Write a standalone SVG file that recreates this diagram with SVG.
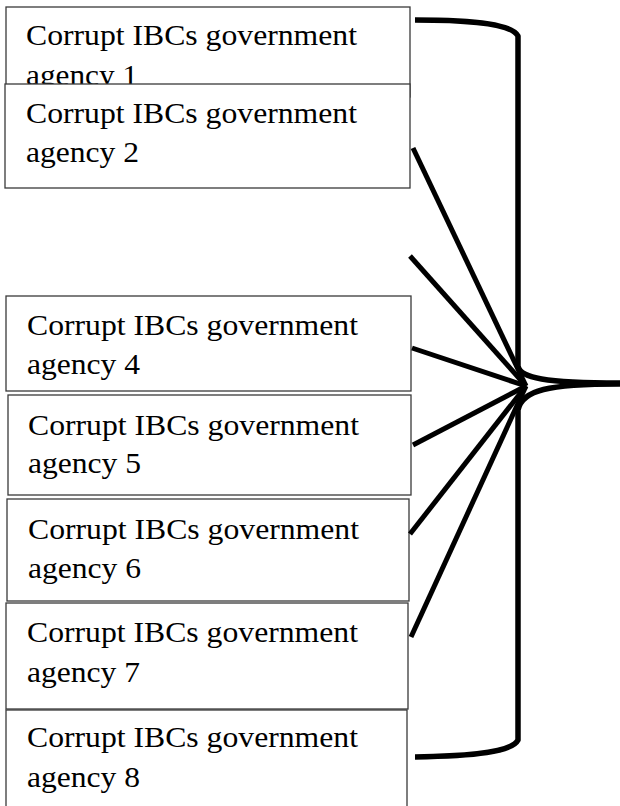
<svg xmlns="http://www.w3.org/2000/svg" width="620" height="806" viewBox="0 0 620 806">
<style>
.box{fill:#fff;stroke:#3a3a3a;stroke-width:1.3}
.t{font-family:"Liberation Serif","Times New Roman",serif;font-size:29px;fill:#000}
.c{fill:none;stroke:#000;stroke-width:5;stroke-linecap:butt}
.br{fill:none;stroke:#000;stroke-width:5.5;stroke-linejoin:round}
</style>
<rect width="620" height="806" fill="#fff"/>
<g id="agency1">
<rect class="box" x="6" y="7" width="404" height="90"/>
<text class="t" x="26" y="45" textLength="331" lengthAdjust="spacingAndGlyphs">Corrupt IBCs government</text>
<text class="t" x="26" y="85" textLength="112" lengthAdjust="spacingAndGlyphs">agency 1</text>
</g>
<g id="agency2">
<rect class="box" x="5" y="84" width="405" height="104"/>
<text class="t" x="26" y="123" textLength="331" lengthAdjust="spacingAndGlyphs">Corrupt IBCs government</text>
<text class="t" x="26" y="162" textLength="113" lengthAdjust="spacingAndGlyphs">agency 2</text>
</g>
<g id="agency4">
<rect class="box" x="6" y="296" width="405" height="95"/>
<text class="t" x="27" y="335" textLength="331" lengthAdjust="spacingAndGlyphs">Corrupt IBCs government</text>
<text class="t" x="27" y="374" textLength="113" lengthAdjust="spacingAndGlyphs">agency 4</text>
</g>
<g id="agency5">
<rect class="box" x="8" y="395" width="403" height="100"/>
<text class="t" x="28" y="435" textLength="331" lengthAdjust="spacingAndGlyphs">Corrupt IBCs government</text>
<text class="t" x="28" y="473" textLength="113" lengthAdjust="spacingAndGlyphs">agency 5</text>
</g>
<g id="agency6">
<rect class="box" x="7" y="499" width="402" height="102"/>
<text class="t" x="28" y="539" textLength="331" lengthAdjust="spacingAndGlyphs">Corrupt IBCs government</text>
<text class="t" x="28" y="578" textLength="113" lengthAdjust="spacingAndGlyphs">agency 6</text>
</g>
<g id="agency7">
<rect class="box" x="6" y="603" width="402" height="106"/>
<text class="t" x="27" y="642" textLength="331" lengthAdjust="spacingAndGlyphs">Corrupt IBCs government</text>
<text class="t" x="27" y="682" textLength="113" lengthAdjust="spacingAndGlyphs">agency 7</text>
</g>
<g id="agency8">
<rect class="box" x="6" y="710" width="401" height="110"/>
<text class="t" x="27" y="747" textLength="331" lengthAdjust="spacingAndGlyphs">Corrupt IBCs government</text>
<text class="t" x="27" y="787" textLength="113" lengthAdjust="spacingAndGlyphs">agency 8</text>
</g>
<g id="connectors">
<line class="c" x1="413" y1="148" x2="526" y2="386"/>
<line class="c" x1="410" y1="256" x2="526" y2="386"/>
<line class="c" x1="412" y1="348" x2="526" y2="386"/>
<line class="c" x1="413" y1="445" x2="526" y2="386"/>
<line class="c" x1="410" y1="534" x2="526" y2="386"/>
<line class="c" x1="411" y1="637" x2="526" y2="386"/>
<path class="br" d="M415,20 C480,20 512,25 518,36 L518,366 C520,378 545,383 620,383"/>
<path class="br" d="M620,384 C548,384 522,390 518,410 L518,740 C512,752 475,756 415,757"/>
</g>
</svg>
